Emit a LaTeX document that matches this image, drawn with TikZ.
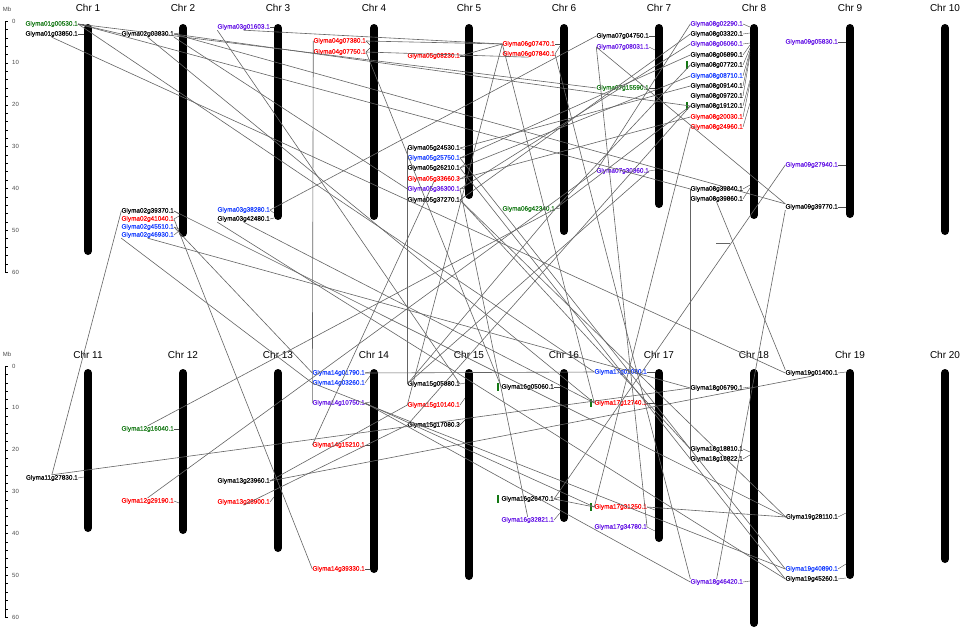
\documentclass[tikz,border=0pt]{standalone}
\usepackage{fontspec}
\setmainfont{Liberation Sans}
\newfontfamily\glf[FakeBold=0.4]{Liberation Sans}
\usetikzlibrary{calc}
\definecolor{ggreen}{RGB}{20,120,20}
\definecolor{gred}{RGB}{255,0,0}
\definecolor{gblue}{RGB}{20,60,255}
\definecolor{gpurple}{RGB}{100,20,230}
\definecolor{lkgray}{RGB}{100,100,100}
\newcommand{\gn}[6]{\node[gl,text=#4] (#1) at (#2,#3) {#5};\draw[tk] (#1.east) -- (#6);}
\newcommand{\gbar}[1]{\fill[ggreen] ($(#1.west)+(-4,-4)$) rectangle ++(2,8);}
\begin{document}
\begin{tikzpicture}[x=1pt,y=-1pt,
  chrbar/.style={line width=8pt,line cap=round,draw=black},
  gl/.style={anchor=east,inner sep=0pt,font=\glf\fontsize{6.4}{7}\selectfont},
  tk/.style={draw=black!70,line width=0.4pt},
  lk/.style={draw=lkgray,line width=0.6pt},
  chrt/.style={font=\fontsize{10}{12}\selectfont,inner sep=0pt},
  axn/.style={font=\fontsize{6}{7}\selectfont,text=black!70,anchor=west,inner sep=0pt}]
\useasboundingbox (0,0) rectangle (970,637);
\fill[white] (0,0) rectangle (970,637);
% ---------- axes ----------
\foreach \yo/\nm in {0/top,345/bot}{
  \node[axn,anchor=center] (mb\nm) at (7,{9+\yo}) {Mb};
  \draw[black,line width=0.6pt] (5,{21+\yo}) -- (5,{272+\yo});
  \foreach \k in {0,...,30}{\draw[black,line width=0.4pt] (5,{21+\yo+\k*8.37}) -- (8,{21+\yo+\k*8.37});}
  \foreach \k in {0,...,6}{\pgfmathtruncatemacro{\v}{10*\k}\node[axn] (ax\nm\k) at (12,{21+\yo+\k*41.85}) {\v};}
}
% ---------- chromosomes ----------
\foreach \cx/\ey/\nm in {88/255/1,183/237/2,278/220/3,374/220/4,469/199/5,564/235/6,659/208/7,754/219/8,850/218/9,945/235/10}{
  \node[chrt] (chr\nm) at (\cx,8) {Chr \nm};
  \draw[chrbar] (\cx,28) -- (\cx,\ey-4);
}
\foreach \cx/\ey/\nm in {88/532/11,183/534/12,278/552/13,374/573/14,469/580/15,564/522/16,659/542/17,754/627/18,850/579/19,945/563/20}{
  \node[chrt] (chr\nm) at (\cx,355) {Chr \nm};
  \draw[chrbar] (\cx,373) -- (\cx,\ey-4);
}
% ---------- genes, top row ----------
\gn{a1}{78}{24}{ggreen}{Glyma01g00530.1}{84,24}
\gn{a2}{78}{34}{black}{Glyma01g03850.1}{84,34}
\gn{b1}{174}{34}{black}{Glyma02g03830.1}{179,33}
\gn{b2}{174}{211}{black}{Glyma02g39370.1}{179,214}
\gn{b3}{174}{219}{gred}{Glyma02g41040.1}{179,216}
\gn{b4}{174}{227}{gblue}{Glyma02g45510.1}{179,229}
\gn{b5}{174}{235}{gblue}{Glyma02g46930.1}{179,231}
\gn{c1}{270}{27}{gpurple}{Glyma03g01603.1}{274,27}
\gn{c2}{270}{210}{gblue}{Glyma03g38280.1}{274,213}
\gn{c3}{270}{219}{black}{Glyma03g42480.1}{274,218}
\gn{d1}{366}{41}{gred}{Glyma04g07380.1}{370,45}
\gn{d2}{366}{52}{gred}{Glyma04g07750.1}{370,48}
\gn{e1}{460}{56}{gred}{Glyma05g08230.1}{465,56}
\gn{e2}{460}{148}{black}{Glyma05g24530.1}{465,150}
\gn{e3}{460}{158}{gblue}{Glyma05g25750.1}{465,157}
\gn{e4}{460}{168}{black}{Glyma05g26210.1}{465,164}
\gn{e5}{460}{179}{gred}{Glyma05g33660.3}{465,176}
\gn{e6}{460}{189}{gpurple}{Glyma05g36300.1}{465,188}
\gn{e7}{460}{200}{black}{Glyma05g37270.1}{465,196}
\gn{f1}{555}{44}{gred}{Glyma06g07470.1}{560,44}
\gn{f2}{555}{54}{gred}{Glyma06g07840.1}{560,46}
\gn{f3}{555}{209}{ggreen}{Glyma06g42340.1}{560,208}
\gn{g1}{649}{36}{black}{Glyma07g04750.1}{655,36}
\gn{g2}{649}{47}{gpurple}{Glyma07g08031.1}{655,50}
\gn{g3}{649}{88}{ggreen}{Glyma07g15590.1}{655,88}
\gn{g4}{649}{171}{gpurple}{Glyma07g30360.1}{655,170}
\gn{h1}{743}{24}{gpurple}{Glyma08g02290.1}{750,27}
\gn{h2}{743}{34}{black}{Glyma08g03320.1}{750,33}
\gn{h3}{743}{44}{gpurple}{Glyma08g06060.1}{750,43}
\gn{h4}{743}{55}{black}{Glyma08g06890.1}{750,45}
\gn{h5}{743}{65}{black}{Glyma08g07720.1}{750,48}
\gn{h6}{743}{76}{gblue}{Glyma08g08710.1}{750,51}
\gn{h7}{743}{86}{black}{Glyma08g09140.1}{750,53}
\gn{h8}{743}{96}{black}{Glyma08g09720.1}{750,55}
\gn{h9}{743}{106}{black}{Glyma08g19120.1}{750,80}
\gn{h10}{743}{117}{gred}{Glyma08g20030.1}{750,83}
\gn{h11}{743}{127}{gred}{Glyma08g24960.1}{750,103}
\gn{h12}{743}{189}{black}{Glyma08g39840.1}{750,185}
\gn{h13}{743}{199}{black}{Glyma08g39860.1}{750,188}
\gn{i1}{838}{42}{gpurple}{Glyma09g05830.1}{846,42}
\gn{i2}{838}{165}{gpurple}{Glyma09g27940.1}{846,165}
\gn{i3}{838}{207}{black}{Glyma09g39770.1}{846,207}
% ---------- genes, bottom row ----------
\gn{k1}{78}{478}{black}{Glyma11g27830.1}{84,477}
\gn{l1}{174}{429}{ggreen}{Glyma12g16040.1}{179,429}
\gn{l2}{174}{501}{gred}{Glyma12g29190.1}{179,503}
\gn{m1}{270}{481}{black}{Glyma13g23960.1}{274,479}
\gn{m2}{270}{502}{gred}{Glyma13g28900.1}{274,497}
\gn{n1}{365}{373}{gblue}{Glyma14g01790.1}{370,372}
\gn{n2}{365}{383}{gblue}{Glyma14g03260.1}{370,376}
\gn{n3}{365}{403}{gpurple}{Glyma14g10750.1}{370,402}
\gn{n4}{365}{445}{gred}{Glyma14g15210.1}{370,445}
\gn{n5}{365}{569}{gred}{Glyma14g39330.1}{370,569}
\gn{o1}{460}{384}{black}{Glyma15g05880.1}{465,383}
\gn{o2}{460}{405}{gred}{Glyma15g10140.1}{465,398}
\gn{o3}{460}{425}{black}{Glyma15g17080.3}{465,420}
\gn{p1}{554}{387}{black}{Glyma16g05060.1}{560,387}
\gn{p2}{554}{499}{black}{Glyma16g26470.1}{560,497}
\gn{p3}{554}{520}{gpurple}{Glyma16g32821.1}{560,513}
\gn{q1}{647}{372}{gblue}{Glyma17g01080.1}{655,372}
\gn{q2}{647}{403}{gred}{Glyma17g12740.1}{655,403}
\gn{q3}{647}{507}{gred}{Glyma17g31250.1}{655,510}
\gn{q4}{647}{527}{gpurple}{Glyma17g34780.1}{655,531}
\gn{r1}{743}{388}{black}{Glyma18g06790.1}{750,387}
\gn{r2}{743}{449}{black}{Glyma18g18810.1}{750,452}
\gn{r3}{743}{459}{black}{Glyma18g18822.1}{750,455}
\gn{r4}{743}{582}{gpurple}{Glyma18g46420.1}{750,581}
\gn{s1}{838}{373}{black}{Glyma19g01400.1}{846,372}
\gn{s2}{838}{517}{black}{Glyma19g28110.1}{846,513}
\gn{s3}{838}{569}{gblue}{Glyma19g40890.1}{846,564}
\gn{s4}{838}{579}{black}{Glyma19g45260.1}{846,578}
% green marks
\gbar{h5}\gbar{h9}\gbar{p1}\gbar{p2}\gbar{q2}\gbar{q3}
% ---------- links ----------
\draw[lk] (a1.east) -- (b1.west);
\draw[lk] (a1.east) -- (g3.west);
\draw[lk] (a1.east) -- (q1.west);
\draw[lk] (a1.east) -- (h12.west);
\draw[lk] (a2.south) -- (s1.west);
\draw[lk] (b1.east) -- (h9.west);
\draw[lk] (b1.east) -- (i3.north west);
\draw[lk] (b1.south) -- (q2.west);
\draw[lk] (b1.south east) -- (e6.west);
\draw[lk] (c1.south) -- (f1.west);
\draw[lk] (c1.south west) -- (o1.east);
\draw[lk] (d1.west) -- (n3.west);
\draw[lk] (d1.east) -- (f1.west);
\draw[lk] (d2.east) -- (f2.south);
\draw[lk] (e1.east) -- (f1.west);
\draw[lk] (f1.west) -- (q2.west);
\draw[lk] (f1.west) -- (o2.west);
\draw[lk] (g1.west) -- (c2.east);
\draw[lk] (b2.west) -- (k1.north);
\draw[lk] (k1.north) -- (r1.west);
\draw[lk] (m1.east) -- (s1.south);
\draw[lk] (m1.east) -- (o2.west);
\draw[lk] (l1.north) -- (f3.east);
\draw[lk] (l2.north) -- (g4.west);
\draw[lk] (e2.west) -- (o1.west);
\draw[lk] (h12.west) -- (r3.west);
\draw[lk] (h13.west) -- (r2.west);
\draw[lk] (h13.south) -- (s1.north west);
\draw[lk] (b5.south) -- (r1.west);
\draw[lk] (b2.east) -- (s2.west);
\draw[lk] (b3.east) -- (n5.west);
\draw[lk] (b4.east) -- (n1.west);
\draw[lk] (b5.south west) -- (n2.west);
\draw[lk] (c3.south) -- (q2.west);
\draw[lk] (d2.east) -- (p1.west);
\draw[lk] (g2.west) -- (i3.north west);
\draw[lk] (i2.west) -- (p2.east);
\draw[lk] (i3.south west) -- (r4.north);
\draw[lk] (g2.west) -- (q4.east);
\draw[lk] (e2.east) -- (h7.west);
\draw[lk] (e3.east) -- (h4.west);
\draw[lk] (e4.east) -- (h6.west);
\draw[lk] (e5.east) -- (h10.west);
\draw[lk] (e6.east) -- (h3.west);
\draw[lk] (e7.east) -- (h2.west);
\draw[lk] (f3.east) -- (h5.west);
\draw[lk] (f3.east) -- (h9.west);
\draw[lk] (g4.west) -- (h1.west);
\draw[lk] (h11.west) -- (q3.west);
\draw[lk] (r4.north west) -- (f2.east);
\draw[lk] (e7.east) -- (s2.west);
\draw[lk] (e3.east) -- (s3.west);
\draw[lk] (e4.east) -- (s4.west);
\draw[lk] (n4.west) -- (e5.south);
\draw[lk] (n3.east) -- (r4.west);
\draw[lk] (n2.west) -- (s3.west);
\draw[lk] (n1.east) -- (q1.west);
\draw[lk] (n3.east) -- (q3.west);
\draw[lk] (q3.east) -- (s2.west);
\draw[lk] (p2.east) -- (q3.west);
\draw[lk] (e7.east) -- (r2.west);
\draw[lk] (c3.south west) -- (s4.west);
\draw[lk] (e6.east) -- (p3.north);
\draw[lk] (o3.west) -- (h9.west);
\draw[lk] (o1.west) -- (g4.east);
\draw[lk] (o1.west) -- (f3.east);
\draw[lk] (m2.south) -- (o3.west);
\coordinate (iso1) at (716,243);
\coordinate (iso2) at (730,243);
\draw[lk] (iso1) -- (iso2);
\end{tikzpicture}
\end{document}
